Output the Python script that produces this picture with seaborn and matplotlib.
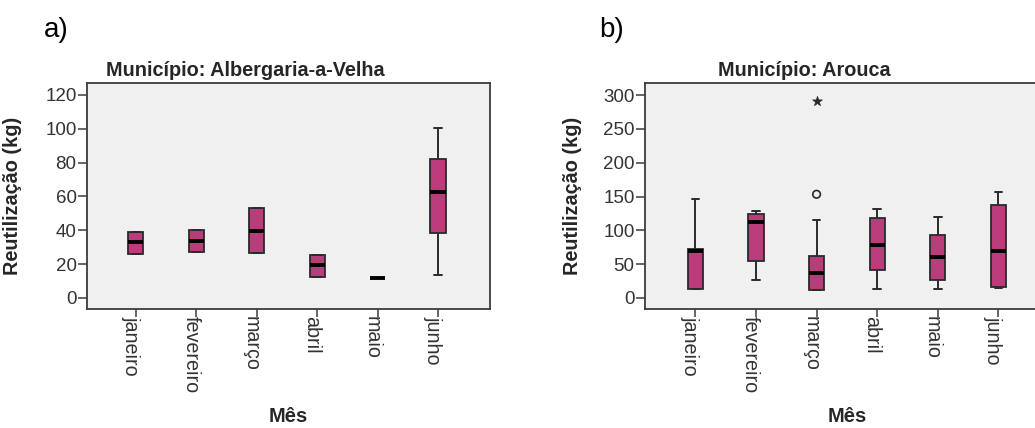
import numpy as np
import pandas as pd
import matplotlib
matplotlib.use("Agg")
import matplotlib.pyplot as plt
import matplotlib.transforms as mtransforms
import seaborn as sns

# Months on the category axis
months = ["janeiro", "fevereiro", "março", "abril", "maio", "junho"]

# Albergaria-a-Velha: five-number summaries per month (kg)
alb_low = [26, 27, 26.6, 12.6, 12, 13.4]
alb_q1 = [26, 27, 26.6, 12.6, 12, 38.4]
alb_med = [32.9, 33.6, 39.7, 19.5, 12, 62.6]
alb_q3 = [39, 40, 52.9, 25.4, 12, 82]
alb_high = [39, 40, 52.9, 25.4, 12, 100.7]

# Arouca: five-number summaries per month (kg)
aro_low = [13.8, 27, 12.3, 12.8, 12.8, 15.3]
aro_q1 = [13.8, 54.8, 12.3, 42, 27, 16.8]
aro_med = [69.6, 112.5, 37, 78, 60.7, 69]
aro_q3 = [73, 123.8, 62, 118, 93.7, 137]
aro_high = [146, 128.3, 115, 131.7, 119.4, 156.4]

# Arouca outliers: moderate (circle) and extreme (star)
aro_out_month = ["março"]
aro_out_value = [153.4]
aro_ext_month = ["março"]
aro_ext_value = [292]

BOX = "#B93C7B"
EDGE = "#2a2a2a"
W, H = 1035, 428


def summary_frame(lo, q1, med, q3, hi):
    rows = []
    for m, a, b, c, d, e in zip(months, lo, q1, med, q3, hi):
        for v in (a, b, c, d, e):
            rows.append({"Mês": m, "Reutilização (kg)": v})
    return pd.DataFrame(rows)


sns.set_style("white", {"axes.facecolor": "#F0F0F0",
                        "axes.edgecolor": "#3c3c3c"})
plt.rcParams["font.family"] = ["Liberation Sans", "DejaVu Sans"]

fig = plt.figure(figsize=(W / 100, H / 100), dpi=100)
ax1 = fig.add_axes([87 / W, 1 - 309 / H, 403 / W, 226 / H])
ax2 = fig.add_axes([645 / W, 1 - 309 / H, 405 / W, 226 / H])

panels = [
    (ax1, summary_frame(alb_low, alb_q1, alb_med, alb_q3, alb_high),
     (-6.5, 127), np.arange(0, 121, 20), (-0.81, 5.86)),
    (ax2, summary_frame(aro_low, aro_q1, aro_med, aro_q3, aro_high),
     (-16.3, 318), np.arange(0, 301, 50), (-0.83, 5.85)),
]

# Shift the rotated month labels so the tick sits on their top edge
label_shift = mtransforms.ScaledTranslation(4 / 100, 0, fig.dpi_scale_trans)

line_kw = dict(color=EDGE, linewidth=1.4)
for ax, df, ylim, yticks, xlim in panels:
    sns.boxplot(data=df, x="Mês", y="Reutilização (kg)", order=months,
                ax=ax, width=0.25, color=BOX, saturation=1,
                showfliers=False, linecolor=EDGE, linewidth=1.3,
                medianprops=dict(color="black", linewidth=2.8),
                whiskerprops=line_kw, capprops=line_kw)
    ax.set_ylim(*ylim)
    ax.set_xlim(*xlim)
    ax.set_yticks(yticks)
    ax.set_xlabel("Mês", fontsize=14.5, fontweight="bold", labelpad=0)
    ax.set_ylabel("Reutilização (kg)", fontsize=14.3, fontweight="bold")
    ax.tick_params(axis="y", length=6.5, width=1.1, color="#3c3c3c",
                   labelsize=13.5, labelcolor="#333333", pad=1, left=True)
    ax.tick_params(axis="x", length=6, width=1.1, color="#3c3c3c",
                   labelsize=14.2, labelcolor="#333333", pad=-1, bottom=True)
    for lbl in ax.get_xticklabels():
        lbl.set_rotation(270)
        lbl.set_ha("right")
        lbl.set_va("top")
        lbl.set_transform(lbl.get_transform() + label_shift)
    for s in ax.spines.values():
        s.set_linewidth(1.3)

ax1.yaxis.set_label_coords(-0.161, 0.5)
ax2.yaxis.set_label_coords(-0.156, 0.5)
ax1.xaxis.set_label_coords(0.5, (309 - 407) / 226)
ax2.xaxis.set_label_coords((847 - 645) / 405, (309 - 407) / 226)

# Outliers for Arouca
sns.scatterplot(x=aro_out_month, y=aro_out_value, ax=ax2, marker="o",
                s=30, facecolor="none", edgecolor=EDGE, linewidth=1.2,
                zorder=5)
sns.scatterplot(x=aro_ext_month, y=aro_ext_value, ax=ax2, marker="*",
                s=55, color=EDGE, edgecolor=EDGE, linewidth=0.5, zorder=5)
ax2.set_xlim(-0.83, 5.85)

# Panel titles, centred over each chart block
fig.text(245 / W, 1 - 70 / H, "Município: Albergaria-a-Velha",
         ha="center", va="center", fontsize=14.3, fontweight="bold")
fig.text(804 / W, 1 - 70 / H, "Município: Arouca",
         ha="center", va="center", fontsize=14.3, fontweight="bold")

# Panel letters
fig.text(44 / W, 1 - 30 / H, "a)", ha="left", va="center", fontsize=20,
         color="black")
fig.text(599 / W, 1 - 30 / H, "b)", ha="left", va="center", fontsize=20,
         color="black")

fig.savefig("out.png", dpi=100, facecolor="white")
